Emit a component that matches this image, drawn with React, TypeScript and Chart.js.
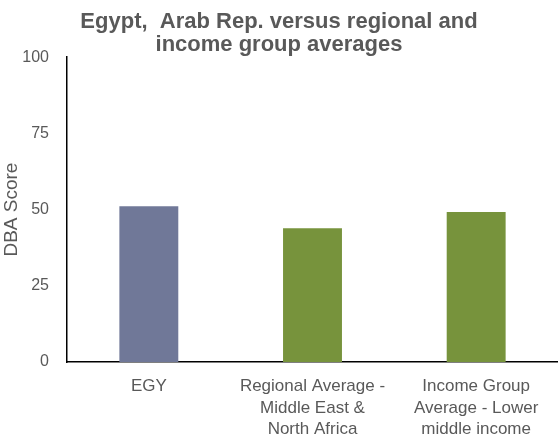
import React, { useEffect, useRef } from "react";
import { Chart, registerables } from "chart.js";

Chart.register(...registerables);

const categories: string[][] = [
  ["EGY"],
  ["Regional Average -", "Middle East &", "North Africa"],
  ["Income Group", "Average - Lower", "middle income"],
];
const scores: number[] = [51.1, 43.9, 49.2];
const barColors: string[] = ["#707898", "#77933C", "#77933C"];
const titleLines: string[] = ["Egypt,  Arab Rep. versus regional and", "income group averages"];
const yAxisTitle = "DBA Score";
const yMin = 0;
const yMax = 100;
const yStep = 25;

const FONT = "'Liberation Sans', Arial, sans-serif";
const GRAY = "#595959";

export default function App() {
  const ref = useRef<HTMLCanvasElement | null>(null);
  useEffect(() => {
    document.body.style.margin = "0";
    if (!ref.current) return;
    const chart = new Chart(ref.current, {
      type: "bar",
      data: {
        labels: categories,
        datasets: [
          {
            data: scores,
            backgroundColor: barColors,
            borderWidth: 0,
            categoryPercentage: 1,
            barPercentage: 0.36,
          },
        ],
      },
      options: {
        animation: false,
        responsive: false,
        maintainAspectRatio: false,
        layout: { padding: 0 },
        plugins: {
          legend: { display: false },
          tooltip: { enabled: false },
          title: {
            display: true,
            text: titleLines,
            color: GRAY,
            font: { family: FONT, size: 22, weight: "bold", lineHeight: 1.05 },
            padding: { top: 10, bottom: 1 },
          },
        },
        scales: {
          x: {
            grid: { display: false },
            border: { display: true, color: "#000000", width: 1.5 },
            ticks: {
              color: GRAY,
              font: { family: FONT, size: 17, lineHeight: 1.25 },
              padding: 6,
              maxRotation: 0,
              autoSkip: false,
            },
            afterFit: (scale: any) => {
              scale.height = 76;
            },
          },
          y: {
            min: yMin,
            max: yMax,
            grid: { display: false },
            border: { display: true, color: "#000000", width: 1.5 },
            ticks: {
              stepSize: yStep,
              color: GRAY,
              font: { family: FONT, size: 16 },
              padding: 10,
            },
            title: {
              display: true,
              text: yAxisTitle,
              color: GRAY,
              font: { family: FONT, size: 19 },
              padding: 0,
            },
            afterFit: (scale: any) => {
              scale.width = 67;
            },
          },
        },
      },
    });
    return () => chart.destroy();
  }, []);
  return (
    <div style={{ position: "absolute", left: 0, top: 0, width: 558, height: 438 }}>
      <canvas ref={ref} width={558} height={438} style={{ width: 558, height: 438 }} />
    </div>
  );
}
